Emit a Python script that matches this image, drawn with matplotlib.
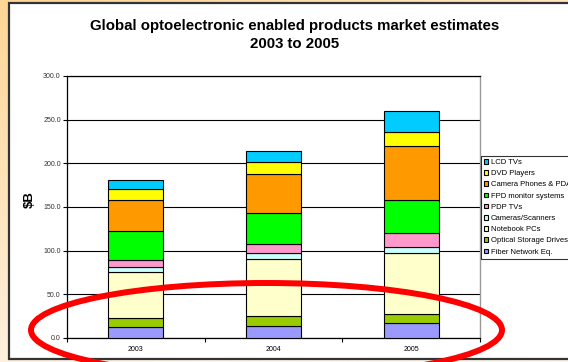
import numpy as np
import matplotlib
matplotlib.use("Agg")
import matplotlib.pyplot as plt
from matplotlib.patches import Rectangle, Ellipse

plt.rcParams['font.family'] = ['Liberation Sans', 'DejaVu Sans']

# data ($B)
years = ['2003', '2004', '2005']
series = ['Fiber Network Eq.', 'Optical Storage Drives', 'Notebook PCs',
          'Cameras/Scanners', 'PDP TVs', 'FPD monitor systems',
          'Camera Phones & PDAs', 'DVD Players', 'LCD TVs']
fiber = [12.2, 14.1, 16.8]
optical = [10.3, 11.4, 10.7]
notebook = [52.7, 65.3, 70.2]
cameras = [6.5, 6.5, 6.9]
pdp = [7.6, 10.3, 15.3]
fpd = [32.8, 35.5, 38.1]
phones = [35.5, 44.3, 62.2]
dvd = [13.4, 13.8, 15.3]
lcd = [9.9, 13.3, 24.4]
values = [fiber, optical, notebook, cameras, pdp, fpd, phones, dvd, lcd]
colors = ['#9999FF', '#99CC00', '#FFFFCC', '#CCFFFF', '#FF99CC',
          '#00FF00', '#FF9900', '#FFFF00', '#00CCFF']

fig = plt.figure(figsize=(5.68, 3.62), dpi=100)

# orange gradient backdrop
bg = fig.add_axes([0, 0, 1, 1], zorder=-10)
gx, gy = np.meshgrid(np.linspace(0, 1, 200), np.linspace(0, 1, 200))
t = np.clip((gx * 0.6 + gy) / 1.2, 0, 1)
c0 = np.array([255, 214, 150]) / 255
c1 = np.array([253, 246, 236]) / 255
img = c0[None, None, :] * (1 - t[..., None]) + c1[None, None, :] * t[..., None]
bg.imshow(img, extent=[0, 1, 0, 1], aspect='auto', origin='upper')
bg.axis('off')
bg.add_patch(Rectangle((9 / 568, 1 - 359 / 362), 0.99, 356 / 362,
                       transform=bg.transAxes, facecolor='white',
                       edgecolor='#333333', lw=1.6))

ax = fig.add_axes([67 / 568, 1 - 338 / 362, 413 / 568, 262 / 362])
x = np.arange(len(years))
bottom = np.zeros(len(years))
bars = []
for name, vals, col in zip(series, values, colors):
    b = ax.bar(x, vals, 0.4, bottom=bottom, color=col, edgecolor='black',
               lw=0.8, label=name, zorder=3)
    bars.append(b)
    bottom += np.array(vals)

ax.set_xlim(-0.5, 2.5)
ax.set_ylim(0, 300)
ax.set_yticks(np.arange(0, 301, 50))
ax.set_yticklabels([f'{v:.1f}' for v in np.arange(0, 301, 50)])
ax.set_xticks(x)
ax.set_xticklabels(years)
ax.set_xticks([-0.5, 0.5, 1.5, 2.5], minor=True)
ax.tick_params(axis='x', which='major', length=0, pad=6, labelsize=5)
ax.tick_params(axis='x', which='minor', length=3, width=0.8, direction='out')
ax.tick_params(axis='y', length=3, width=0.8, pad=1.5, labelsize=5,
               labelcolor='#333333')
ax.yaxis.grid(True, color='black', lw=0.8)
ax.set_axisbelow(True)
for s in ['left', 'bottom', 'top']:
    ax.spines[s].set_color('black')
    ax.spines[s].set_linewidth(0.9)
ax.spines['right'].set_color('#999999')
ax.spines['right'].set_linewidth(1.0)

fig.text(30 / 568, 1 - 200 / 362, '$B', rotation=90, fontsize=9.5,
         fontweight='bold', ha='center', va='center')
fig.text(295 / 568, 1 - 35 / 362,
         'Global optoelectronic enabled products market estimates\n2003 to 2005',
         ha='center', va='center', fontsize=10.8, fontweight='bold',
         linespacing=1.3)

leg = fig.legend(bars[::-1], series[::-1], loc='upper left',
                 bbox_to_anchor=(481 / 568, 1 - 156 / 362), fontsize=5.5,
                 frameon=True, fancybox=False, handlelength=0.55,
                 handleheight=0.55, handletextpad=0.3, labelspacing=0.55,
                 borderpad=0.4, borderaxespad=0)
leg.get_frame().set_edgecolor('black')
leg.get_frame().set_linewidth(0.8)

fig.add_artist(Ellipse((266.5 / 568, 1 - 330 / 362), 471 / 568, 94 / 362,
                       transform=fig.transFigure, fill=False,
                       edgecolor='red', lw=4.3, zorder=20))

fig.savefig('out.png', dpi=100)
